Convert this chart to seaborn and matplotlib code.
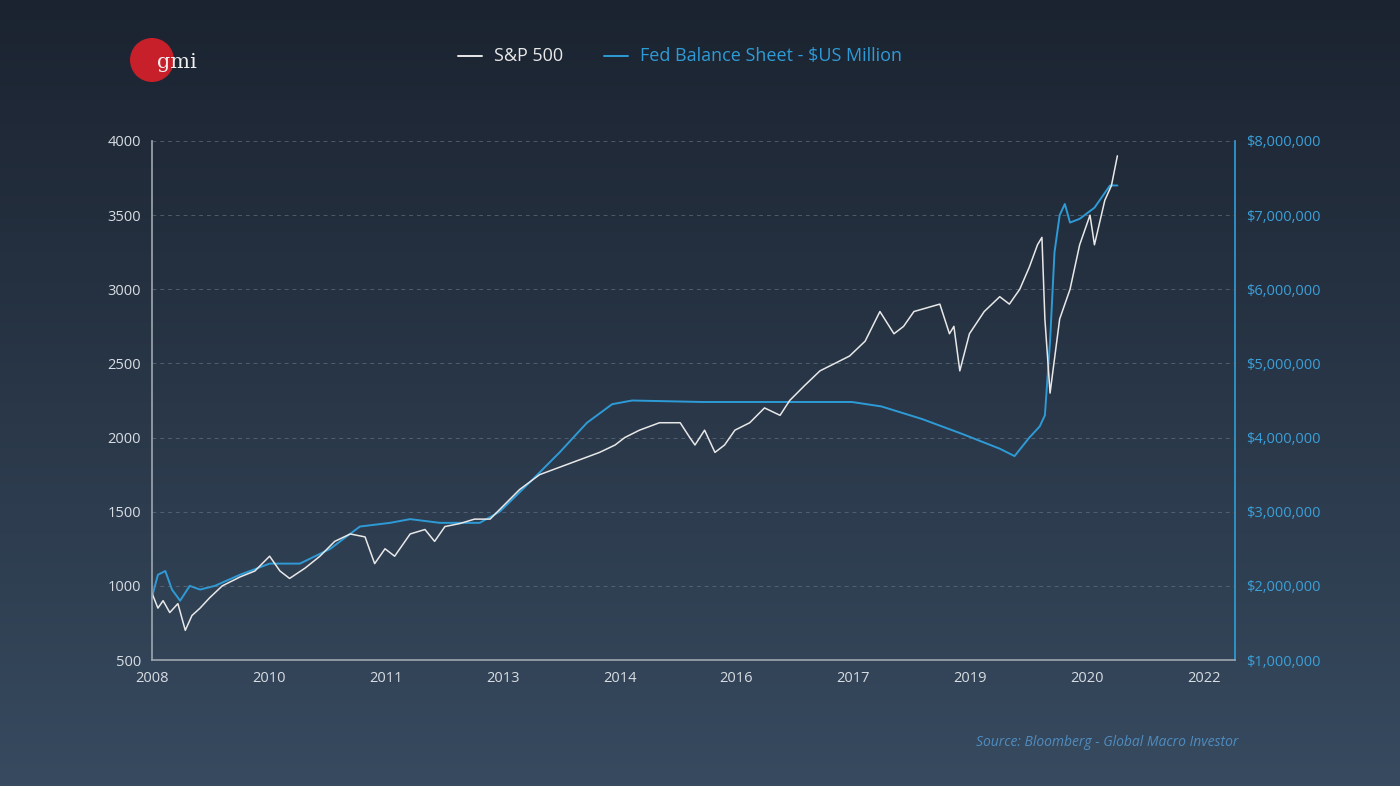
import numpy as np
import pandas as pd
import seaborn as sns
from matplotlib import pyplot as plt
from matplotlib.colors import LinearSegmentedColormap
from matplotlib.patches import Ellipse

# S&P 500: (years since 2008, index level)
spx_t = [0.00, 0.08, 0.15, 0.24, 0.35, 0.45, 0.54, 0.65, 0.78, 0.95, 1.19, 1.39,
         1.59, 1.73, 1.86, 2.07, 2.27, 2.47, 2.68, 2.88, 3.01, 3.15, 3.28, 3.49,
         3.69, 3.82, 3.96, 4.16, 4.36, 4.57, 4.77, 4.97, 5.24, 5.51, 5.78, 6.05,
         6.26, 6.39, 6.59, 6.86, 7.14, 7.27, 7.34, 7.47, 7.61, 7.74, 7.88, 8.08,
         8.28, 8.49, 8.62, 8.82, 9.03, 9.23, 9.43, 9.64, 9.84, 10.03, 10.16, 10.30,
         10.65, 10.78, 10.84, 10.92, 11.05, 11.25, 11.46, 11.59, 11.73, 11.86,
         11.97, 12.03, 12.07, 12.14, 12.27, 12.41, 12.54, 12.68, 12.74, 12.88,
         12.97, 13.05]
spx = [950, 850, 900, 820, 880, 700, 800, 850, 920, 1000, 1060, 1100,
       1200, 1100, 1050, 1120, 1200, 1300, 1350, 1330, 1150, 1250, 1200, 1350,
       1380, 1300, 1400, 1420, 1450, 1450, 1550, 1650, 1750, 1800, 1850, 1900,
       1950, 2000, 2050, 2100, 2100, 2000, 1950, 2050, 1900, 1950, 2050, 2100,
       2200, 2150, 2250, 2350, 2450, 2500, 2550, 2650, 2850, 2700, 2750, 2850,
       2900, 2700, 2750, 2450, 2700, 2850, 2950, 2900, 3000, 3150,
       3300, 3350, 2800, 2300, 2800, 3000, 3300, 3500, 3300, 3600,
       3700, 3900]

# Fed balance sheet: (years since 2008, $US million)
fed_t = [0.00, 0.08, 0.18, 0.27, 0.38, 0.51, 0.65, 0.85, 1.19, 1.59, 2.00, 2.41,
         2.81, 3.22, 3.49, 3.89, 4.43, 4.70, 5.11, 5.51, 5.88, 6.22, 6.49, 7.43,
         8.51, 9.46, 9.86, 10.41, 10.95, 11.46, 11.66, 11.86, 12.00, 12.07, 12.14,
         12.20, 12.27, 12.34, 12.41, 12.54, 12.74, 12.95, 13.05]
fed = [1850000, 2150000, 2200000, 1950000, 1800000, 2000000, 1950000, 2000000,
       2150000, 2300000, 2300000, 2500000, 2800000, 2850000, 2900000, 2850000,
       2850000, 3000000, 3400000, 3800000, 4200000, 4450000, 4500000, 4480000,
       4480000, 4480000, 4420000, 4250000, 4050000, 3850000, 3750000, 4000000,
       4150000, 4300000, 5300000, 6500000, 7000000, 7150000, 6900000, 6950000,
       7100000, 7400000, 7400000]

tick_labels = ["2008", "2010", "2011", "2013", "2014", "2016", "2017", "2019", "2020", "2022"]
x_max = 14.64

sns.set_theme(style="white")
plt.rcParams["font.family"] = ["Open Sans", "DejaVu Sans"]

fig = plt.figure(figsize=(14, 7.86), dpi=100)
bg = fig.add_axes([0, 0, 1, 1], zorder=-10)
grad = np.linspace(0, 1, 256).reshape(-1, 1)
cm = LinearSegmentedColormap.from_list("bg", ["#1b2330", "#374a5f"])
bg.imshow(grad, aspect="auto", cmap=cm, extent=[0, 1, 0, 1])
bg.set_xlim(0, 1)
bg.set_ylim(0, 1)
bg.axis("off")

ax = fig.add_axes([152 / 1400, 1 - 660 / 786, (1235 - 152) / 1400, (660 - 141) / 786])
ax.patch.set_alpha(0)
ax2 = ax.twinx()

df1 = pd.DataFrame({"t": spx_t, "v": spx})
df2 = pd.DataFrame({"t": fed_t, "v": fed})
sns.lineplot(data=df2, x="t", y="v", ax=ax2, color="#2e9bd6", lw=1.4)
sns.lineplot(data=df1, x="t", y="v", ax=ax, color="#e8e8e8", lw=1.1)
ax.set_zorder(ax2.get_zorder() + 1)

ax.set_xlim(0, x_max)
ax.set_ylim(500, 4000)
ax2.set_ylim(1e6, 8e6)
ax.set_xticks(np.arange(len(tick_labels)) * 1.58)
ax.set_xticklabels(tick_labels)
ax.set_yticks(range(500, 4001, 500))
ax2.set_yticks(np.arange(1e6, 8.01e6, 1e6))
ax2.set_yticklabels([f"${int(v):,}" for v in np.arange(1e6, 8.01e6, 1e6)])
for a in (ax, ax2):
    a.set_xlabel("")
    a.set_ylabel("")
ax.tick_params(colors="#d8dde3", labelsize=10.5, length=0, pad=8)
ax2.tick_params(colors="#3b9fd8", labelsize=10.5, length=0, pad=8)
for v in range(1000, 4001, 500):
    ax.axhline(v, color="#6a7a8c", lw=0.7, ls=(0, (4, 4)), alpha=0.6, zorder=0)
for s in ["top", "right"]:
    ax.spines[s].set_visible(False)
ax.spines["left"].set_color("#9aa3ad")
ax.spines["bottom"].set_color("#9aa3ad")
for s in ["top", "left", "bottom"]:
    ax2.spines[s].set_visible(False)
ax2.spines["right"].set_color("#2e9bd6")

# legend
fig.lines.append(plt.Line2D([458 / 1400, 482 / 1400], [1 - 56 / 786] * 2, color="#e8e8e8", lw=1.4, transform=fig.transFigure))
fig.text(494 / 1400, 1 - 56 / 786, "S&P 500", color="#e8e8e8", fontsize=13, va="center")
fig.lines.append(plt.Line2D([604 / 1400, 628 / 1400], [1 - 56 / 786] * 2, color="#2e9bd6", lw=1.4, transform=fig.transFigure))
fig.text(640 / 1400, 1 - 56 / 786, "Fed Balance Sheet - $US Million", color="#2e9bd6", fontsize=13, va="center")

# logo
bg.add_patch(Ellipse((152 / 1400, 1 - 60 / 786), 44 / 1400, 44 / 786, color="#c8202a", ec="none"))
fig.text(157 / 1400, 1 - 63 / 786, "gmi", color="#f0f0f0", fontsize=15, family="DejaVu Serif", va="center")

fig.text(1238 / 1400, 1 - 742 / 786, "Source: Bloomberg - Global Macro Investor", color="#4f8cbf",
         fontsize=10, style="italic", ha="right", va="center")

fig.savefig("out.png", dpi=100)
plt.close(fig)
